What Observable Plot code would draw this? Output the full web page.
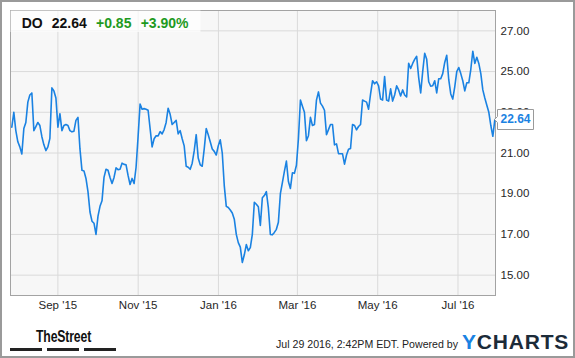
<!DOCTYPE html>
<html>
<head>
<meta charset="utf-8">
<script src="https://cdn.jsdelivr.net/npm/d3@7"></script>
<script src="https://cdn.jsdelivr.net/npm/@observablehq/plot@0.6"></script>
<style>
html, body { margin: 0; padding: 0; background: #fff; }
#wrap { position: relative; width: 575px; height: 358px; overflow: hidden; }
#wrap > svg { position: absolute; left: 0; top: 0; }
g[aria-label="tip"] text, g[aria-label="tip"] tspan { fill: #1a82e2 !important; }
</style>
</head>
<body>
<div id="wrap"></div>
<script>
// ---- data ----
const symbol = "DO";
const headerPrice = "22.64";
const headerChange = "+0.85";
const headerPct = "+3.90%";
const startDate = "2015-07-28";
const endDate = "2016-07-29";
const xDomain = ["2015-07-27T00:00:00Z", "2016-07-29T12:00:00Z"];
const yDomain = [14, 28];
const yTicks = [15, 17, 19, 21, 23, 25, 27];
const xTickDates = ["2015-09-01", "2015-11-01", "2016-01-01", "2016-03-01", "2016-05-01", "2016-07-01"];
const prices = [
  22.27, 23.0, 22.1, 21.55, 21.3, 20.95, 22.2, 22.5, 23.5, 23.85,
  23.95, 22.1, 22.3, 22.5, 22.35, 21.8, 21.4, 21.12, 21.3, 21.72,
  24.2, 24.05, 23.7, 22.27, 22.93, 22.1, 22.35, 22.4, 22.35, 22.1,
  22.04, 22.07, 22.6, 22.75, 21.2, 20.15, 20.12, 19.75, 19.1, 18.1,
  17.65, 17.55, 17.0, 17.9, 18.38, 18.65, 19.8, 20.2, 20.15, 19.8,
  19.5, 19.8, 20.27, 20.18, 20.2, 20.5, 20.44, 20.42, 19.9, 19.45,
  19.75, 19.5, 20.3, 21.8, 23.4, 23.15, 23.18, 23.15, 23.1, 22.2,
  21.3, 21.7, 21.85, 21.84, 22.05, 21.94, 22.15, 22.5, 23.2, 22.9,
  22.4, 22.5, 22.6, 21.94, 22.1, 21.7, 21.35, 20.35, 20.3, 20.2,
  20.5, 21.1, 21.9, 20.75, 20.42, 20.35, 21.2, 22.2, 21.9, 21.55,
  21.2, 21.08, 20.9, 21.35, 21.65, 21.0, 19.4, 18.38, 18.32, 18.2,
  18.05, 17.75, 17.0, 16.6, 16.38, 15.62, 16.0, 16.5, 16.2, 16.35,
  17.0, 18.58, 18.48, 18.36, 17.44, 18.8, 18.91, 19.1, 18.3, 17.0,
  16.98, 17.1, 17.25, 17.6, 19.0, 19.55, 20.1, 20.6, 19.6, 19.26,
  20.03, 20.0, 20.4, 21.7, 23.6, 23.3, 23.0, 21.6, 21.85, 22.75,
  22.35, 22.4, 23.6, 24.0, 23.45, 23.3, 23.1, 21.9, 22.15, 22.4,
  22.4, 21.4, 21.45, 20.97, 20.96, 20.96, 20.45, 20.9, 21.18, 21.22,
  22.4, 22.35, 22.14, 22.3, 22.4, 23.6, 23.55, 23.5, 23.15, 23.9,
  24.55, 24.4, 24.5, 24.3, 23.65, 23.6, 24.75, 23.6, 23.55, 24.15,
  23.55, 23.85, 24.3, 24.1, 23.8, 24.1, 23.85, 23.75, 25.41, 25.15,
  25.4, 25.6, 25.75, 24.7, 23.95, 25.0, 25.9, 25.6, 24.5, 24.28,
  24.3, 24.55, 23.95, 24.65, 24.65, 24.9, 25.45, 25.8, 24.6, 23.9,
  23.65, 24.25, 25.0, 25.2, 24.9, 24.55, 24.05, 24.45, 24.45, 25.1,
  26.0, 25.4, 25.7, 25.4, 24.9, 24.1, 23.7, 23.35, 23.0, 22.35,
  21.82, 22.64
];
const footerStamp = "Jul 29 2016, 2:42PM EDT. Powered by";

// ---- build ----
const n = prices.length;
const t0 = new Date(startDate + "T00:00:00Z").getTime();
const t1 = new Date(endDate + "T00:00:00Z").getTime();
const data = prices.map((p, i) => ({ date: new Date(t0 + (t1 - t0) * i / (n - 1)), price: p }));
const xt = xTickDates.map(s => new Date(s + "T00:00:00Z"));
const fmt = d3.utcFormat("%b '%y");
const blue = "#1a82e2";
const font = "'Liberation Sans', Arial, sans-serif";

const chart = Plot.plot({
  width: 575, height: 358,
  marginLeft: 10, marginTop: 10, marginRight: 80, marginBottom: 63,
  style: { background: "transparent", fontFamily: font, fontSize: "11.5px", color: "#262626", overflow: "visible" },
  x: { type: "utc", domain: xDomain.map(s => new Date(s)) },
  y: { domain: yDomain },
  marks: [
    Plot.frame({ fill: "#f7f7f7", stroke: null }),
    Plot.gridX(xt, { stroke: "#dadada", strokeOpacity: 1 }),
    Plot.gridY(yTicks, { stroke: "#dadada", strokeOpacity: 1 }),
    Plot.frame({ stroke: "#a3a3a3" }),
    Plot.axisX(xt, { tickFormat: fmt, tickSize: 0, tickPadding: 5, label: null }),
    Plot.axisY(yTicks, { anchor: "right", tickFormat: d => d.toFixed(2), tickSize: 0, tickPadding: 5, label: null }),
    Plot.lineY(data, { x: "date", y: "price", stroke: blue, strokeWidth: 1.6 }),
    Plot.tip([data[n - 1]], {
      x: "date", y: "price", title: d => d.price.toFixed(2), anchor: "left",
      fill: "white", stroke: "#9a9a9a", pointerSize: 6, textPadding: 3, pathFilter: "none",
      fontSize: 12, fontWeight: "bold", fontFamily: font
    })
  ]
});
document.getElementById("wrap").appendChild(chart);

// ---- overlay: header, footer, border ----
const ov = d3.select("#wrap").append("svg")
  .attr("width", 575).attr("height", 358)
  .style("font-family", font);

ov.append("rect").attr("x", 10.5).attr("y", 10.5).attr("width", 190).attr("height", 21.5)
  .attr("fill", "#fff").attr("fill-opacity", 0.7);
const head = [
  { t: symbol, x: 21.7, c: "#111" },
  { t: headerPrice, x: 51.7, c: "#111" },
  { t: headerChange, x: 96, c: "#1f9a1f" },
  { t: headerPct, x: 140.7, c: "#1f9a1f" }
];
ov.selectAll("text.h").data(head).join("text").attr("class", "h")
  .attr("x", d => d.x).attr("y", 28.3).attr("fill", d => d.c)
  .attr("font-size", 14).attr("font-weight", "bold").text(d => d.t);

// TheStreet logo
ov.append("text").attr("transform", "translate(36,342) scale(0.72,1)")
  .attr("font-size", 17).attr("font-weight", "bold").attr("fill", "#111")
  .attr("letter-spacing", "-0.2").text("TheStreet");
[10, 47, 84].forEach(x => ov.append("rect").attr("x", x).attr("y", 348).attr("width", 32).attr("height", 3).attr("fill", "#222"));

ov.append("text").attr("x", 458).attr("y", 348).attr("text-anchor", "end")
  .attr("font-size", 10.6).attr("fill", "#222").text(footerStamp);

const yc = ov.append("text").attr("x", 462).attr("y", 349).attr("font-size", 21)
  .attr("font-weight", "bold").attr("letter-spacing", "0.8");
yc.append("tspan").attr("fill", blue).text("Y");
yc.append("tspan").attr("fill", "#1c2b39").text("CHARTS");

ov.append("rect").attr("x", 1).attr("y", 1).attr("width", 573).attr("height", 356)
  .attr("fill", "none").attr("stroke", "#9a9a9a").attr("stroke-width", 2);
</script>
</body>
</html>
